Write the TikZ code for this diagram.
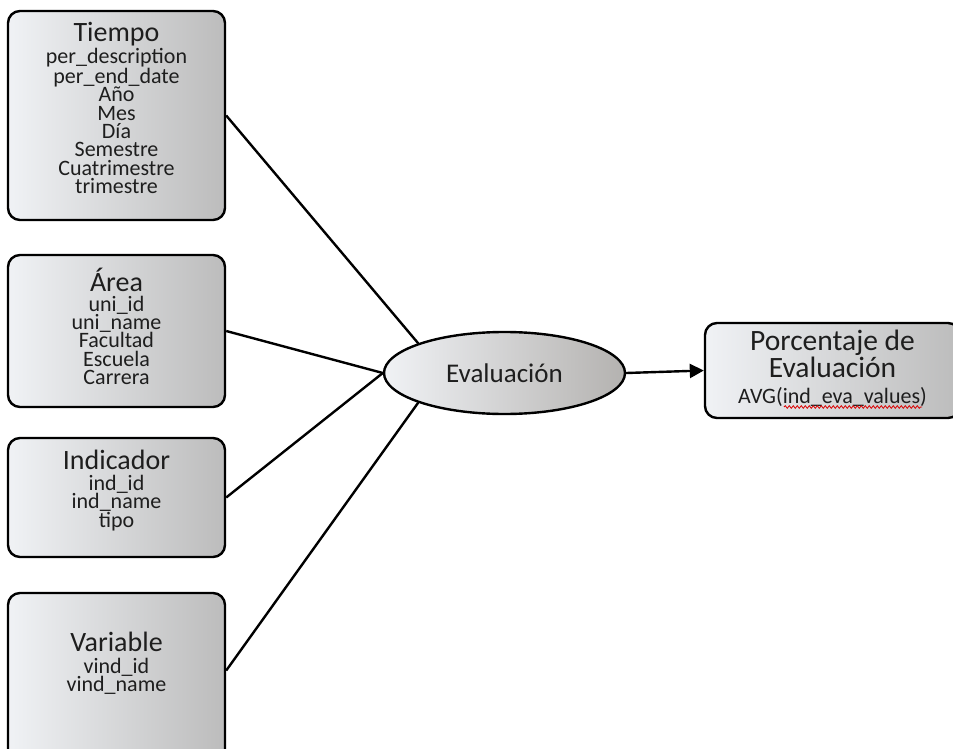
\documentclass[tikz,border=0pt]{standalone}
\usepackage{fontspec}
\setmainfont{Carlito}
\usetikzlibrary{arrows.meta,decorations.pathmorphing,shapes.geometric}
\definecolor{shadeL}{HTML}{F0F2F5}
\definecolor{shadeR}{HTML}{BCBCBC}
\definecolor{ovalR}{HTML}{B4B2B0}
\definecolor{inkC}{HTML}{1E1E1E}
\newcommand\ttlfont{\fontsize{28}{28}\selectfont}
\newcommand\itmfont{\fontsize{22}{18.3}\selectfont}
\tikzset{
  entity/.style={draw=black, line width=2.4pt, rounded corners=12pt,
    left color=shadeL, right color=shadeR, align=center, text=inkC,
    font=\itmfont, inner sep=0pt, minimum width=217pt},
  oval/.style={ellipse, draw=black, line width=2.4pt, left color=shadeL,
    right color=ovalR, text=inkC, inner sep=0pt, font=\fontsize{27}{27}\selectfont},
  link/.style={draw=black, line width=2.4pt},
}
\begin{document}
\begin{tikzpicture}[x=1pt,y=-1pt]
\useasboundingbox (0,0) rectangle (953,749);

% dimension tables
\node[entity, minimum height=209pt, text depth=15pt] (tiempo) at (116.5,115.5)
  {{\ttlfont Tiempo}\\[1pt] per\_description\\ per\_end\_date\\ Año\\ Mes\\ Día\\ Semestre\\ Cuatrimestre\\ trimestre};
\node[entity, minimum height=152pt, text depth=9pt] (area) at (116.5,331)
  {{\ttlfont Área}\\[1pt] uni\_id\\ uni\_name\\ Facultad\\ Escuela\\ Carrera};
\node[entity, minimum height=119pt, text depth=18pt] (indic) at (116.5,497.5)
  {{\ttlfont Indicador}\\[3pt] ind\_id\\ ind\_name\\ tipo};
\node[entity, minimum height=182pt, text depth=44pt] (varb) at (116.5,684)
  {{\ttlfont Variable}\\[3pt] vind\_id\\ vind\_name};

% fact and measure
\node[oval, minimum width=241pt, minimum height=82pt] (evalu) at (504.5,373) {Evaluación};
\node[entity, minimum width=255pt, minimum height=95pt, text depth=8pt,
  font=\fontsize{29.5}{24}\selectfont] (pct) at (832.5,370.5)
  {Porcentaje de\\ Evaluación\\[2pt] {\itmfont AVG(ind\_eva\_values)}};

% connectors
\draw[link] (tiempo.east) -- (evalu.161);
\draw[link] (area.east) -- (evalu.west);
\draw[link] (indic.east) -- (evalu.west);
\draw[link] (varb.7) -- (evalu.199);
\draw[link, -{Triangle[length=14pt,width=14pt]}] (evalu.east) -- (pct.west);

% spell-check mark under the field name
\coordinate (sqA) at (784,407);
\coordinate (sqB) at (922,407);
\draw[red!85!black, line width=0.8pt, decorate,
  decoration={snake, amplitude=1.3pt, segment length=4pt}] (sqA) -- (sqB);
\end{tikzpicture}
\end{document}
